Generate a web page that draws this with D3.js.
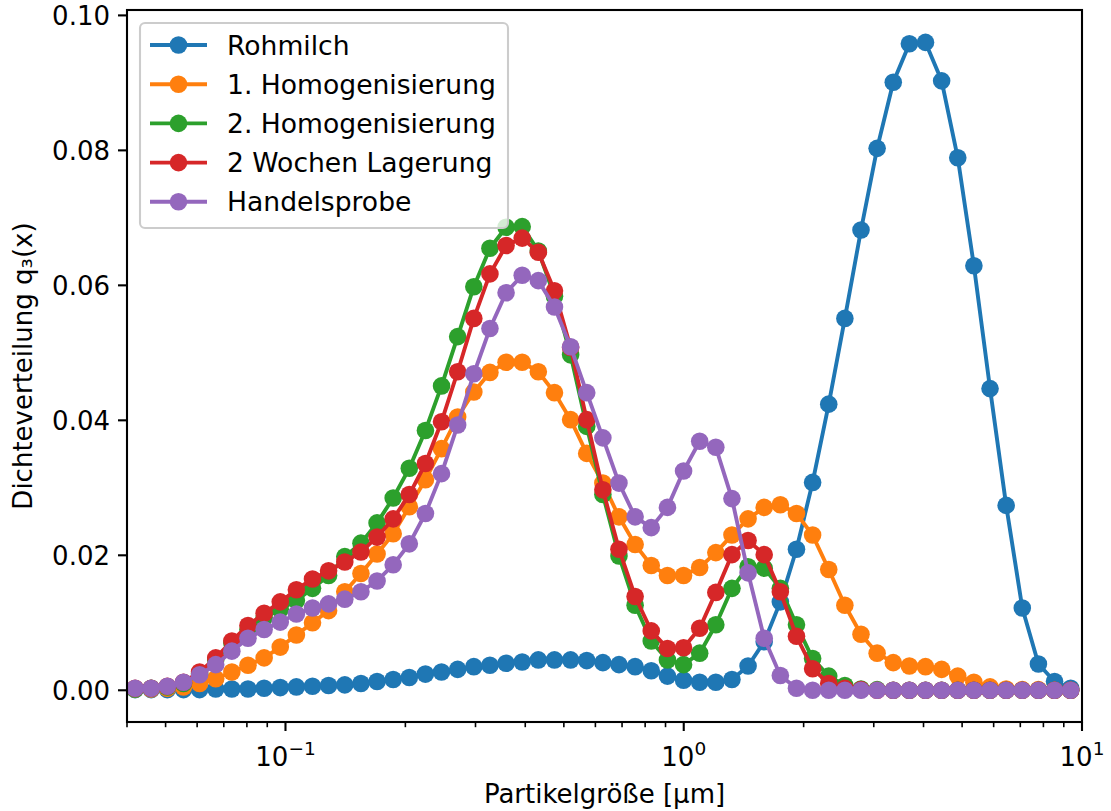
<!DOCTYPE html>
<html><head><meta charset="utf-8">
<script src="https://cdn.jsdelivr.net/npm/d3@7"></script>
<style>body{margin:0;background:#fff} text{font-family:"DejaVu Sans",sans-serif;fill:#000}</style>
</head><body><svg id="c" width="1111" height="811"></svg>
<script>
// Particle size channel centres [µm]
const particleSize = [0.04192,0.04601,0.05051,0.05545,0.06086,0.06681,0.07334,0.08051,0.08838,0.09702,
0.1065,0.1169,0.1283,0.1409,0.1547,0.1698,0.1864,0.2046,0.2246,0.2465,
0.2706,0.2971,0.3261,0.3580,0.3930,0.4314,0.4736,0.5199,0.5707,0.6265,
0.6877,0.7549,0.8287,0.9101,0.9990,1.0966,1.2038,1.3215,1.4506,1.5924,
1.7481,1.9190,2.1066,2.3125,2.5385,2.7866,3.0590,3.3580,3.6862,4.0465,
4.4420,4.8762,5.3528,5.8760,6.4503,7.0808,7.7729,8.5326,9.3667];

const rohmilch = [0.0001,0.0001,0.0001,0.0001,0.0001,0.0002,0.0002,0.0002,0.0003,0.0004,
0.0005,0.0006,0.0007,0.0008,0.0010,0.0013,0.0016,0.0019,0.0024,0.0027,
0.0031,0.0035,0.0037,0.0040,0.0042,0.0045,0.0045,0.0045,0.0044,0.0041,
0.0038,0.0035,0.0029,0.0021,0.0015,0.0012,0.0012,0.0016,0.0036,0.0072,
0.0131,0.0209,0.0308,0.0424,0.0551,0.0682,0.0803,0.0901,0.0958,0.0960,
0.0903,0.0789,0.0629,0.0447,0.0274,0.0122,0.0039,0.0013,0.0003];

const homog1 = [0.0002,0.0002,0.0003,0.0005,0.0010,0.0017,0.0027,0.0037,0.0048,0.0064,
0.0082,0.0100,0.0118,0.0146,0.0173,0.0202,0.0232,0.0272,0.0312,0.0358,
0.0405,0.0442,0.0471,0.0486,0.0486,0.0472,0.0441,0.0401,0.0351,0.0307,
0.0257,0.0216,0.0185,0.0170,0.0170,0.0182,0.0204,0.0230,0.0254,0.0271,
0.0275,0.0262,0.0230,0.0179,0.0126,0.0083,0.0055,0.0041,0.0036,0.0035,
0.0031,0.0021,0.0012,0.0005,0.0002,0.0001,0.0001,0.0000,0.0000];

const homog2 = [0.0002,0.0003,0.0005,0.0010,0.0025,0.0045,0.0070,0.0090,0.0107,0.0120,
0.0133,0.0151,0.0170,0.0198,0.0218,0.0248,0.0285,0.0329,0.0385,0.0451,
0.0524,0.0598,0.0655,0.0686,0.0687,0.0651,0.0584,0.0497,0.0391,0.0290,
0.0199,0.0126,0.0073,0.0045,0.0038,0.0055,0.0097,0.0151,0.0183,0.0181,
0.0151,0.0097,0.0047,0.0021,0.0007,0.0002,0.0001,0.0000,0.0000,0.0000,
0.0000,0.0000,0.0000,0.0000,0.0000,0.0000,0.0000,0.0000,0.0000];

const lagerung = [0.0003,0.0003,0.0006,0.0012,0.0027,0.0048,0.0073,0.0096,0.0114,0.0131,
0.0149,0.0165,0.0177,0.0190,0.0205,0.0227,0.0254,0.0290,0.0336,0.0398,
0.0472,0.0551,0.0617,0.0659,0.0670,0.0649,0.0592,0.0508,0.0401,0.0297,
0.0209,0.0139,0.0088,0.0062,0.0063,0.0092,0.0145,0.0201,0.0222,0.0201,
0.0146,0.0080,0.0032,0.0010,0.0003,0.0001,0.0000,0.0000,0.0000,0.0000,
0.0000,0.0000,0.0000,0.0000,0.0000,0.0000,0.0000,0.0000,0.0000];

const handel = [0.0003,0.0003,0.0006,0.0012,0.0023,0.0038,0.0058,0.0077,0.0090,0.0101,
0.0113,0.0122,0.0128,0.0135,0.0146,0.0162,0.0186,0.0217,0.0262,0.0321,
0.0393,0.0469,0.0536,0.0589,0.0615,0.0607,0.0568,0.0509,0.0441,0.0374,
0.0307,0.0257,0.0241,0.0271,0.0325,0.0369,0.0360,0.0284,0.0174,0.0077,
0.0022,0.0003,0.0000,0.0000,0.0000,0.0000,0.0000,0.0000,0.0000,0.0000,
0.0000,0.0000,0.0000,0.0000,0.0000,0.0000,0.0000,0.0000,0.0000];

const seriesNames = ["Rohmilch","1. Homogenisierung","2. Homogenisierung","2 Wochen Lagerung","Handelsprobe"];
const seriesValues = [rohmilch, homog1, homog2, lagerung, handel];
const seriesColors = ["#1f77b4","#ff7f0e","#2ca02c","#d62728","#9467bd"];
const yTicks = [0, 0.02, 0.04, 0.06, 0.08, 0.10];
const xTicks = [0.1, 1, 10];
const xTickExp = ["\u22121", "0", "1"];
const xLabel = "Partikelgröße [µm]";
const yLabel = "Dichteverteilung q\u2083(x)";

const L = 127, R = 1082, T = 10, B = 722;
const svg = d3.select("#c");
const x = d3.scaleLog().domain([0.04, 10]).range([L, R]);
const y = d3.scaleLinear().domain([-0.0047, 0.1008]).range([B, T]);

svg.append("defs").append("clipPath").attr("id","clip")
  .append("rect").attr("x",L).attr("y",T).attr("width",R-L).attr("height",B-T);

const plot = svg.append("g").attr("clip-path","url(#clip)");
const line = d3.line().x((d,i)=>x(particleSize[i])).y(d=>y(d));
seriesValues.forEach((vals, k) => {
  const g = plot.append("g");
  g.append("path").datum(vals).attr("d", line).attr("fill","none")
    .attr("stroke", seriesColors[k]).attr("stroke-width", 3.9).attr("stroke-linejoin","round");
  g.selectAll("circle").data(vals).join("circle")
    .attr("cx",(d,i)=>x(particleSize[i])).attr("cy",d=>y(d)).attr("r",8.8)
    .attr("fill", seriesColors[k]);
});

// axes
const minorX = [];
[0.01,0.1,1].forEach(dec=>{ for(let m=2;m<=9;m++){ const v=dec*m; if(v>=0.04 && v<=10) minorX.push(v);} });
const xAxis = svg.append("g").attr("transform",`translate(0,${B})`);
xAxis.selectAll("line.minor").data(minorX).join("line")
  .attr("x1",d=>x(d)).attr("x2",d=>x(d)).attr("y1",0).attr("y2",5.2)
  .attr("stroke","#000").attr("stroke-width",1.6);
xAxis.selectAll("line.major").data(xTicks).join("line")
  .attr("x1",d=>x(d)).attr("x2",d=>x(d)).attr("y1",0).attr("y2",9)
  .attr("stroke","#000").attr("stroke-width",2.1);
const xt = xAxis.selectAll("text.tl").data(xTicks).join("text")
  .attr("x",d=>x(d)).attr("y",44).attr("text-anchor","middle").attr("font-size",26);
xt.append("tspan").text("10");
xt.append("tspan").attr("dy",-11).attr("font-size",18.5).text((d,i)=>xTickExp[i]);

const yAxis = svg.append("g");
yAxis.selectAll("line").data(yTicks).join("line")
  .attr("x1",L-9).attr("x2",L).attr("y1",d=>y(d)).attr("y2",d=>y(d))
  .attr("stroke","#000").attr("stroke-width",2.1);
yAxis.selectAll("text").data(yTicks).join("text")
  .attr("x",L-17).attr("y",d=>y(d)).attr("dy","0.36em").attr("text-anchor","end")
  .attr("font-size",26).text(d=>d3.format(".2f")(d));

svg.append("rect").attr("x",L).attr("y",T).attr("width",R-L).attr("height",B-T)
  .attr("fill","none").attr("stroke","#000").attr("stroke-width",2.1);

svg.append("text").attr("x",(L+R)/2).attr("y",803).attr("text-anchor","middle")
  .attr("font-size",26).text(xLabel);
svg.append("text").attr("transform",`translate(32,${(T+B)/2}) rotate(-90)`)
  .attr("text-anchor","middle").attr("font-size",26).text(yLabel);

// legend
const lg = svg.append("g");
lg.append("rect").attr("x",140).attr("y",23).attr("width",368).attr("height",205)
  .attr("rx",5).attr("fill","#fff").attr("fill-opacity",0.8)
  .attr("stroke","#cccccc").attr("stroke-width",2.1);
seriesNames.forEach((n,k)=>{
  const cy = 45 + k*39.2;
  lg.append("line").attr("x1",150).attr("x2",207).attr("y1",cy).attr("y2",cy)
    .attr("stroke",seriesColors[k]).attr("stroke-width",3.9);
  lg.append("circle").attr("cx",178.5).attr("cy",cy).attr("r",8.8).attr("fill",seriesColors[k]);
  lg.append("text").attr("x",227).attr("y",cy).attr("dy","0.36em").attr("font-size",26.6).text(n);
});
</script></body></html>
